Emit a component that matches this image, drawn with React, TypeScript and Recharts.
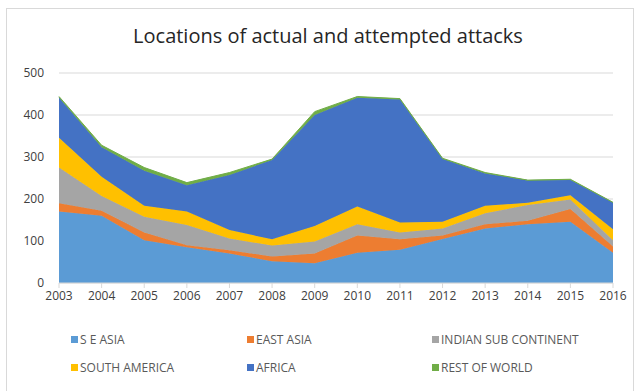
import { Area, AreaChart, CartesianGrid, Legend, XAxis, YAxis } from 'recharts';

const years = ['2003', '2004', '2005', '2006', '2007', '2008', '2009', '2010', '2011', '2012', '2013', '2014', '2015', '2016'];

const seAsia = [170, 160, 102, 85, 70, 52, 47, 72, 79, 105, 130, 140, 146, 72];
const eastAsia = [20, 12, 18, 5, 8, 11, 23, 41, 25, 8, 10, 8, 30, 15];
const indianSub = [85, 35, 38, 48, 28, 26, 29, 27, 16, 17, 26, 38, 23, 15];
const southAmerica = [71, 46, 26, 32, 20, 15, 37, 42, 24, 16, 18, 5, 10, 26];
const africa = [95, 70, 83, 63, 131, 189, 264, 259, 293, 149, 77, 53, 36, 63];
const restOfWorld = [3, 5, 8, 6, 6, 2, 8, 3, 2, 2, 2, 1, 2, 1];

const yTicks = [0, 100, 200, 300, 400, 500];

const series = [
  { key: 'seAsia', name: 'S E ASIA', color: '#5b9bd5', values: seAsia },
  { key: 'eastAsia', name: 'EAST ASIA', color: '#ed7d31', values: eastAsia },
  { key: 'indianSub', name: 'INDIAN SUB CONTINENT', color: '#a5a5a5', values: indianSub },
  { key: 'southAmerica', name: 'SOUTH AMERICA', color: '#ffc000', values: southAmerica },
  { key: 'africa', name: 'AFRICA', color: '#4472c4', values: africa },
  { key: 'restOfWorld', name: 'REST OF WORLD', color: '#70ad47', values: restOfWorld },
];

const data = years.map((year, i) => {
  const row: Record<string, string | number> = { year };
  series.forEach((s) => {
    row[s.key] = s.values[i];
  });
  return row;
});

const font = '"Open Sans", "Liberation Sans", sans-serif';
const legendCols = [71, 247, 432];

function ChartLegend() {
  return (
    <div style={{ position: 'relative', width: 644, height: 60 }}>
      {series.map((s, i) => (
        <div
          key={s.key}
          style={{
            position: 'absolute',
            left: legendCols[i % 3],
            top: i < 3 ? 0 : 28,
            display: 'flex',
            alignItems: 'center',
            fontFamily: font,
            fontSize: 12,
            color: '#595959',
            whiteSpace: 'nowrap',
          }}
        >
          <span style={{ width: 7, height: 7, background: s.color, marginRight: 2 }} />
          {s.name}
        </div>
      ))}
    </div>
  );
}

export default function App() {
  return (
    <div style={{ position: 'absolute', left: 0, top: 0, width: 644, height: 391, background: '#fff', overflow: 'hidden' }}>
      <div
        style={{
          position: 'absolute',
          left: 6,
          top: 8,
          width: 626,
          height: 420,
          border: '1px solid #d9d9d9',
        }}
      />
      <div
        style={{
          position: 'absolute',
          top: 22,
          left: 0,
          width: 656,
          textAlign: 'center',
          fontFamily: font,
          fontSize: 20,
          color: '#262626',
        }}
      >
        Locations of actual and attempted attacks
      </div>
      <AreaChart
        width={644}
        height={391}
        data={data}
        margin={{ top: 73, right: 31, bottom: 78, left: 19 }}
        style={{ position: 'absolute', left: 0, top: 0 }}
      >
        <CartesianGrid vertical={false} stroke="#d9d9d9" />
        <XAxis
          dataKey="year"
          height={30}
          tickLine={{ stroke: '#d9d9d9' }}
          axisLine={{ stroke: '#d9d9d9' }}
          tickSize={5}
          tickMargin={3}
          interval={0}
          tick={{ fill: '#404040', fontSize: 12, fontFamily: font }}
        />
        <YAxis
          width={40}
          domain={[0, 500]}
          ticks={yTicks}
          axisLine={false}
          tickLine={false}
          tickSize={0}
          tickMargin={15}
          tick={{ fill: '#404040', fontSize: 12, fontFamily: font }}
        />
        <Legend
          layout="horizontal"
          verticalAlign="middle"
          align="center"
          wrapperStyle={{ position: 'absolute', left: 0, top: 331, width: 644 }}
          content={() => <ChartLegend />}
        />
        {series.map((s) => (
          <Area
            key={s.key}
            type="linear"
            dataKey={s.key}
            name={s.name}
            stackId="total"
            stroke={s.color}
            strokeWidth={1}
            fill={s.color}
            fillOpacity={1}
            isAnimationActive={false}
          />
        ))}
      </AreaChart>
    </div>
  );
}
